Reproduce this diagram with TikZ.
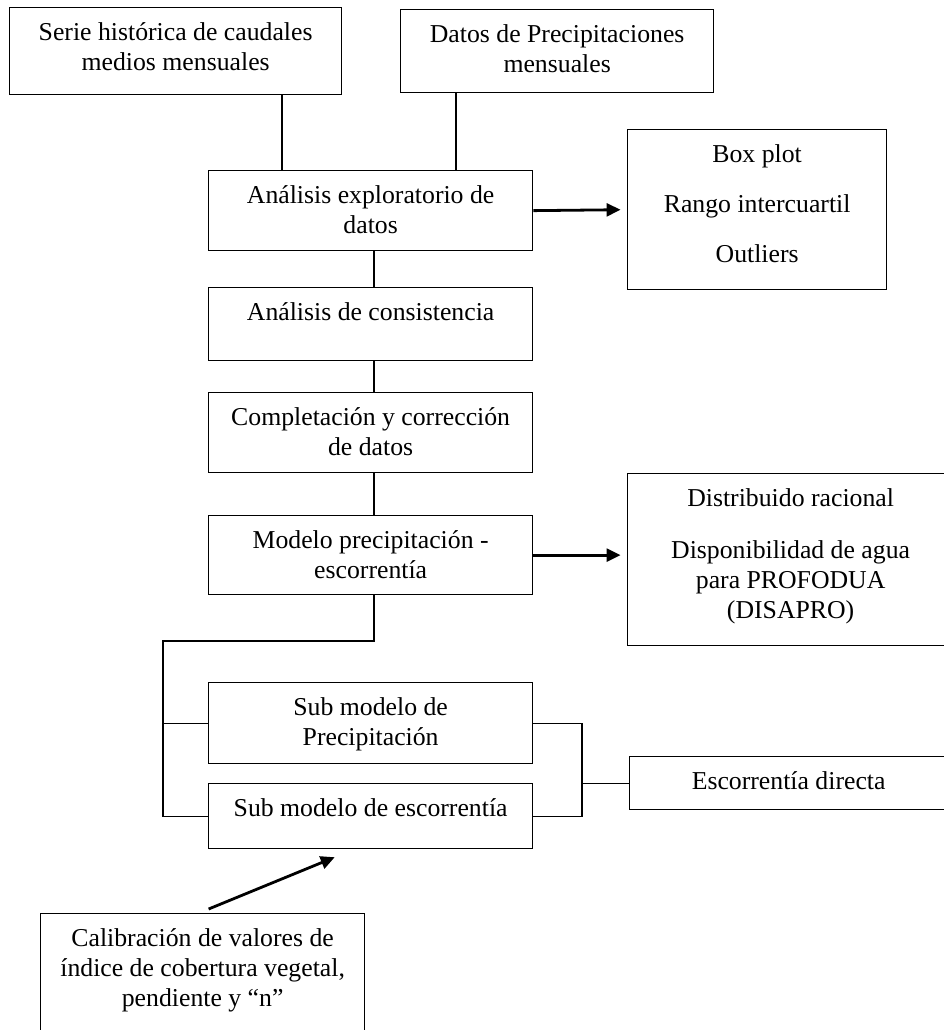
\documentclass[tikz,border=0pt]{standalone}
\usepackage{fontspec}
\setmainfont{Liberation Serif}
\usetikzlibrary{arrows.meta}
\newlength{\px}
\setlength{\px}{0.466pt}
% box contents: width, height (px), text at the top
\newcommand{\caja}[3]{\parbox[t][#2\px][t]{#1\px}{\centering\rule{0pt}{33\px}#3}}

\begin{document}
\begin{tikzpicture}[x=0.466pt,y=-0.466pt,
		bloque/.style={draw,line width=0.6pt,inner sep=0pt,anchor=north west,font=\fontsize{12}{14}\selectfont},
		linea/.style={line width=0.5pt},
		flecha/.style={line width=1.3pt,-{Triangle[length=6.5pt,width=6pt]},shorten >=3pt}]
		\useasboundingbox (0,0) rectangle (944,1030);
		\clip (0,0) rectangle (944,1030);
		\node[bloque] (serie) at (9,7) {\caja{332}{87}{Serie histórica de caudales\\medios mensuales}};
		\node[bloque] (datos) at (400,9) {\caja{313}{83}{Datos de Precipitaciones\\mensuales}};
		\node[bloque] (analisis) at (208,170) {\caja{324}{80}{Análisis exploratorio de\\datos}};
		\node[bloque] (boxplot) at (627,129) {\caja{259}{160}{Box plot\\[9.3pt]Rango intercuartil\\[9.3pt]Outliers}};
		\node[bloque] (consistencia) at (208,287) {\caja{324}{73}{Análisis de consistencia}};
		\node[bloque] (completacion) at (208,392) {\caja{324}{80}{Completación y corrección\\de datos}};
		\node[bloque] (modelo) at (208,515) {\caja{324}{79}{Modelo precipitación -\\escorrentía}};
		\node[bloque] (distribuido) at (627,473) {\caja{326}{172}{Distribuido racional\\[10pt]Disponibilidad de agua\\para PROFODUA\\(DISAPRO)}};
		\node[bloque] (subprec) at (208,682) {\caja{324}{81}{Sub modelo de\\Precipitación}};
		\node[bloque] (subesc) at (208,783) {\caja{324}{65}{Sub modelo de escorrentía}};
		\node[bloque] (escorrentia) at (629,756) {\caja{318}{53}{Escorrentía directa}};
		\node[bloque] (calib) at (40,913) {\caja{324}{140}{Calibración de valores de\\índice de cobertura vegetal,\\pendiente y “n”}};

		\coordinate (ea) at (282,0);
		\coordinate (eb) at (456,0);
		\coordinate (eje) at (374,0);
		\coordinate (codo) at (163,641);
		\coordinate (union) at (582,0);

		\draw[linea] (serie.south -| ea) -- (analisis.north -| ea);
		\draw[linea] (datos.south -| eb) -- (analisis.north -| eb);
		\draw[linea] (analisis.south -| eje) -- (consistencia.north -| eje);
		\draw[linea] (consistencia.south -| eje) -- (completacion.north -| eje);
		\draw[linea] (completacion.south -| eje) -- (modelo.north -| eje);
		\draw[linea] (modelo.south -| eje) |- (codo) |- (subesc.west);
		\draw[linea] (codo |- subprec.west) -- (subprec.west);
		\draw[linea] (subprec.east) -| (union |- subesc.east) -- (subesc.east);
		\draw[linea] (union |- escorrentia.west) -- (escorrentia.west);

		\draw[flecha] (analisis.east) -- (boxplot.west);
		\draw[flecha] (modelo.east) -- (modelo.east -| distribuido.west);
		\draw[flecha] ([xshift=6\px,yshift=4\px]calib.north) -- ([xshift=-30\px,yshift=-5.5\px]subesc.south);
	\end{tikzpicture}
\end{document}
